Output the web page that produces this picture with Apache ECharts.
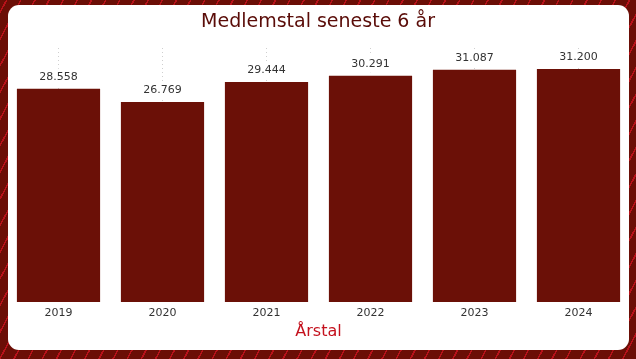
<!DOCTYPE html>
<html>
<head>
<meta charset="utf-8">
<script src="https://cdn.jsdelivr.net/npm/echarts@6/dist/echarts.min.js"></script>
<style>
html,body{margin:0;padding:0;width:636px;height:359px;overflow:hidden;}
body{background:#6b0e06 repeating-linear-gradient(-62deg,#6b0e06 0px,#6b0e06 11px,#b8121a 11px,#b8121a 12.5px);position:relative;}
#card{position:absolute;left:8px;top:5px;width:621px;height:345px;background:#fff;border-radius:11px;}
#chart{position:absolute;left:0;top:0;width:636px;height:359px;}
</style>
</head>
<body>
<div id="card"></div>
<div id="chart"></div>
<script>
const titleText = 'Medlemstal seneste 6 år';
const axisName = 'Årstal';
const categories = ['2019','2020','2021','2022','2023','2024'];
const members = [28558, 26769, 29444, 30291, 31087, 31200];

function fmt(v){ return String(v).replace(/\B(?=(\d{3})+(?!\d))/g,'.'); }

const chart = echarts.init(document.getElementById('chart'), null, {renderer:'canvas'});
chart.setOption({
  backgroundColor: 'transparent',
  animation: false,
  textStyle: {fontFamily: 'DejaVu Sans'},
  title: {
    text: titleText, left: 'center', top: 8,
    textStyle: {fontFamily: 'DejaVu Sans', fontSize: 19, fontWeight: 'normal', color: '#5a0c08'}
  },
  grid: {left: 6.5, right: 5.5, top: 48, bottom: 57},
  xAxis: {
    type: 'category', data: categories,
    name: axisName, nameLocation: 'middle', nameGap: 22,
    nameTextStyle: {fontFamily: 'DejaVu Sans', fontSize: 16, color: '#c4111d'},
    axisLine: {show: false}, axisTick: {show: false},
    axisLabel: {fontFamily: 'DejaVu Sans', fontSize: 11, color: '#333', margin: 6},
    splitLine: {show: true, alignWithLabel: true, lineStyle: {color: '#cfcfcf', type: [1,3], width: 1}}
  },
  yAxis: {type: 'value', min: 0, max: 34000, show: false, splitLine: {show: false}},
  series: [{
    type: 'bar', data: members, barCategoryGap: '20%',
    itemStyle: {color: '#6b1007'},
    label: {
      show: true, position: 'top', distance: 3,
      formatter: p => fmt(p.value),
      fontFamily: 'DejaVu Sans', fontSize: 11, color: '#333',
      backgroundColor: '#fff', padding: [3, 2]
    }
  }]
});
</script>
</body>
</html>
